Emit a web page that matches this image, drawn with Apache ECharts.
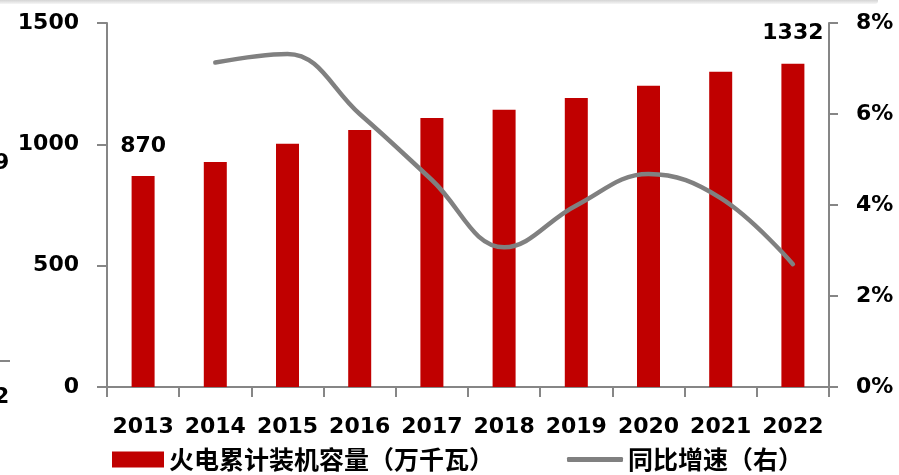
<!DOCTYPE html>
<html>
<head>
<meta charset="utf-8">
<script src="https://cdn.jsdelivr.net/npm/echarts@6/dist/echarts.min.js"></script>
<style>
  html, body { margin: 0; padding: 0; background: #fff; }
  #chart { width: 899px; height: 475px; }
</style>
</head>
<body>
<div id="chart"></div>
<script>
// Years on the category axis
var years = ['2013', '2014', '2015', '2016', '2017', '2018', '2019', '2020', '2021', '2022'];
// Cumulative installed thermal power capacity (10k kW)
var capacity = [870, 927, 1002, 1059, 1109, 1142, 1191, 1241, 1299, 1332];
// Year-on-year growth rate, % (no value for the first year)
var growth = [null, 7.13, 7.32, 6.0, 4.55, 3.07, 3.99, 4.68, 4.15, 2.70];
// Axis tick labels
var leftTicks = [0, 500, 1000, 1500];
var rightTicks = ['0%', '2%', '4%', '6%', '8%'];

var barName = '火电累计装机容量（万千瓦）';
var lineName = '同比增速（右）';

var numFont = '"DejaVu Sans", sans-serif';
var cjkFont = '"Noto Sans CJK SC", "DejaVu Sans", sans-serif';
var axisGray = '#868686';

var chart = echarts.init(document.getElementById('chart'), null, { renderer: 'canvas' });

var barData = capacity.map(function (v, i) {
  var showLabel = (i === 0 || i === capacity.length - 1);
  return { value: v, label: { show: showLabel } };
});

var legendText = { fontFamily: cjkFont, fontWeight: 'bold', fontSize: 25, color: '#000' };

chart.setOption({
  animation: false,
  backgroundColor: '#ffffff',
  grid: { left: 107, right: 70, top: 23, bottom: 88, containLabel: false },
  legend: [
    {
      data: [{ name: barName, icon: 'rect' }],
      left: 112, top: 447, padding: 0,
      itemWidth: 52, itemHeight: 16,
      textStyle: legendText,
      selectedMode: false
    },
    {
      data: [{ name: lineName, icon: 'roundRect' }],
      left: 567, top: 447, padding: 0,
      itemWidth: 56, itemHeight: 5,
      textStyle: legendText,
      selectedMode: false
    }
  ],
  xAxis: {
    type: 'category',
    data: years,
    boundaryGap: true,
    axisLine: { lineStyle: { color: axisGray, width: 2 } },
    axisTick: { show: true, alignWithLabel: false, length: 10, lineStyle: { color: axisGray, width: 2 } },
    axisLabel: {
      interval: 0,
      margin: 29,
      fontFamily: numFont, fontWeight: 'bold', fontSize: 22, color: '#000'
    },
    splitLine: { show: false }
  },
  yAxis: [
    {
      type: 'value',
      min: leftTicks[0], max: leftTicks[leftTicks.length - 1], interval: 500,
      position: 'left',
      axisLine: { show: true, lineStyle: { color: axisGray, width: 2 } },
      axisTick: { show: true, length: 10, lineStyle: { color: axisGray, width: 2 } },
      axisLabel: {
        margin: 28,
        formatter: function (v) { return String(v); },
        fontFamily: numFont, fontWeight: 'bold', fontSize: 22, color: '#000'
      },
      splitLine: { show: false }
    },
    {
      type: 'value',
      min: 0, max: 8, interval: 2,
      position: 'right',
      axisLine: { show: true, lineStyle: { color: axisGray, width: 2 } },
      axisTick: { show: true, length: 9, lineStyle: { color: axisGray, width: 2 } },
      axisLabel: {
        margin: 27,
        formatter: function (v) { return rightTicks[Math.round(v / 2)]; },
        fontFamily: numFont, fontWeight: 'bold', fontSize: 22, color: '#000'
      },
      splitLine: { show: false }
    }
  ],
  series: [
    {
      name: barName,
      type: 'bar',
      yAxisIndex: 0,
      data: barData,
      barWidth: 23,
      itemStyle: { color: '#C00000' },
      label: {
        position: 'top', distance: 19,
        fontFamily: numFont, fontWeight: 'bold', fontSize: 22, color: '#000'
      },
      z: 2
    },
    {
      name: lineName,
      type: 'line',
      yAxisIndex: 1,
      data: growth,
      smooth: 0.4,
      showSymbol: false,
      symbol: 'none',
      connectNulls: false,
      lineStyle: { color: '#808080', width: 4.5, cap: 'round', join: 'round' },
      itemStyle: { color: '#808080' },
      z: 3
    }
  ],
  graphic: [
    {
      type: 'rect',
      shape: { x: 0, y: 0, width: 878, height: 4, r: [0, 0, 3, 0] },
      style: {
        fill: new echarts.graphic.LinearGradient(0, 0, 0, 1, [
          { offset: 0, color: '#d4d4d4' },
          { offset: 1, color: '#f6f6f6' }
        ])
      },
      silent: true
    },
    {
      type: 'text',
      left: -6, top: 152,
      style: { text: '9', font: 'bold 22px "DejaVu Sans", sans-serif', fill: '#000' },
      silent: true
    },
    {
      type: 'line',
      shape: { x1: 0, y1: 361, x2: 10, y2: 361 },
      style: { stroke: axisGray, lineWidth: 2 },
      silent: true
    },
    {
      type: 'text',
      left: -6, top: 386,
      style: { text: '2', font: 'bold 22px "DejaVu Sans", sans-serif', fill: '#000' },
      silent: true
    }
  ]
});
</script>
</body>
</html>
